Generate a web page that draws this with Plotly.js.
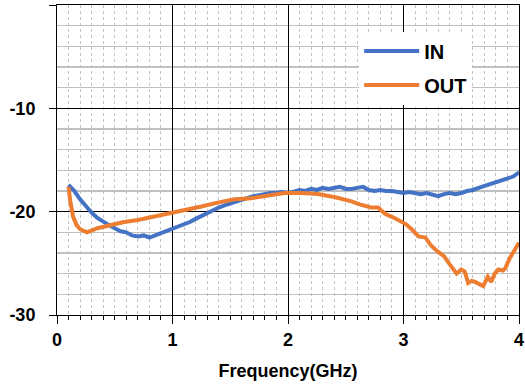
<!DOCTYPE html>
<html>
<head>
<meta charset="utf-8">
<script src="https://cdn.plot.ly/plotly-3.0.1.min.js"></script>
<style>html,body{margin:0;padding:0;background:#fff;}#chart{width:525px;height:387px;}</style>
</head>
<body>
<div id="chart"></div>
<script>
// IN series (GHz, dB)
const inFreq = [0.10,0.15,0.20,0.25,0.30,0.35,0.40,0.45,0.50,0.55,0.60,0.65,0.70,0.75,0.80,0.85,0.90,0.95,1.00,1.05,1.10,1.15,1.20,1.25,1.30,1.35,1.40,1.45,1.50,1.55,1.60,1.65,1.70,1.75,1.80,1.85,1.90,1.95,2.00,2.05,2.10,2.15,2.20,2.25,2.30,2.35,2.40,2.45,2.50,2.55,2.60,2.65,2.70,2.75,2.80,2.85,2.90,2.95,3.00,3.05,3.10,3.15,3.20,3.25,3.30,3.35,3.40,3.45,3.50,3.55,3.60,3.65,3.70,3.75,3.80,3.85,3.90,3.95,4.00];
const inVal = [-17.4,-18.0,-18.8,-19.5,-20.1,-20.6,-21.0,-21.3,-21.6,-21.9,-22.0,-22.3,-22.4,-22.3,-22.5,-22.3,-22.0,-21.8,-21.6,-21.4,-21.2,-21.0,-20.7,-20.4,-20.2,-19.9,-19.6,-19.4,-19.2,-19.0,-18.8,-18.6,-18.5,-18.4,-18.3,-18.2,-18.2,-18.1,-18.2,-18.0,-17.9,-18.0,-17.8,-17.9,-17.7,-17.8,-17.7,-17.6,-17.8,-17.8,-17.7,-17.6,-17.9,-18.0,-17.9,-18.0,-18.0,-18.1,-18.2,-18.1,-18.2,-18.3,-18.2,-18.4,-18.5,-18.3,-18.2,-18.3,-18.2,-18.0,-17.9,-17.7,-17.5,-17.3,-17.2,-17.0,-16.8,-16.6,-16.2];
// OUT series (GHz, dB)
const outFreq = [0.10,0.115,0.14,0.17,0.20,0.26,0.35,0.45,0.58,0.70,0.87,1.00,1.11,1.25,1.40,1.54,1.68,1.83,1.97,2.12,2.26,2.41,2.55,2.62,2.67,2.72,2.78,2.84,2.90,2.96,3.02,3.08,3.13,3.19,3.24,3.30,3.35,3.40,3.46,3.50,3.53,3.56,3.59,3.62,3.66,3.69,3.73,3.76,3.79,3.82,3.86,3.88,3.92,3.96,4.00];
const outVal = [-17.6,-19.0,-20.5,-21.3,-21.7,-22.0,-21.6,-21.3,-21.0,-20.8,-20.4,-20.1,-19.9,-19.5,-19.1,-18.8,-18.7,-18.4,-18.2,-18.2,-18.3,-18.6,-19.0,-19.3,-19.5,-19.6,-19.6,-20.2,-20.5,-20.8,-21.2,-21.8,-22.4,-22.5,-23.3,-23.9,-24.3,-25.1,-26.0,-25.6,-25.8,-26.9,-26.7,-26.8,-27.0,-27.2,-26.3,-26.8,-26.0,-25.6,-25.7,-25.5,-24.5,-23.7,-23.0];
const seriesNames = ['IN','OUT'];
const xTickVals = [0,1,2,3,4];
const xTickText = ['0','1','2','3','4'];
const yTickVals = [-30,-20,-10,0];
const yTickText = ['-30','-20','-10',''];

const FONT = 'Liberation Sans, Arial, sans-serif';

const traces = [
  {x: inFreq, y: inVal, name: seriesNames[0], type: 'scatter', mode: 'lines', legendgroup: 'a',
   line: {color: '#4472C4', width: 4}},
  {x: outFreq, y: outVal, name: seriesNames[1], type: 'scatter', mode: 'lines', legendgroup: 'b',
   line: {color: '#ED7D31', width: 4}}
];

const layout = {
  width: 525, height: 387,
  margin: {l: 57, r: 6, t: 5, b: 72},
  paper_bgcolor: '#fff', plot_bgcolor: '#fff',
  showlegend: true,
  legend: {
    x: 0.654, y: 0.9145, xanchor: 'left', yanchor: 'top',
    bgcolor: '#ffffff', borderwidth: 0,
    font: {family: FONT, size: 20, color: '#000', weight: 700},
    traceorder: 'grouped', tracegroupgap: 5,
    itemwidth: 55
  },
  xaxis: {
    range: [0, 4], tickvals: xTickVals, ticktext: xTickText,
    ticks: 'outside', ticklen: 8, tickwidth: 1, tickcolor: '#000',
    showline: true, linecolor: '#000', linewidth: 1, mirror: true,
    showgrid: true, gridcolor: '#000', gridwidth: 1,
    zeroline: false,
    tickfont: {family: FONT, size: 18, color: '#000', weight: 700},
    minor: {dtick: 0.1, showgrid: true, gridcolor: '#c4c4c4', griddash: 'dot', gridwidth: 1,
            ticks: 'outside', ticklen: 4, tickcolor: '#000', tickwidth: 1},
    title: {text: 'Frequency(GHz)', font: {family: FONT, size: 18, color: '#000', weight: 700}, standoff: 15}
  },
  yaxis: {
    range: [-30, 0], tickvals: yTickVals, ticktext: yTickText,
    ticks: 'outside', ticklen: 7, tickwidth: 1, tickcolor: '#000',
    showline: true, linecolor: '#000', linewidth: 1, mirror: true,
    showgrid: true, gridcolor: '#000', gridwidth: 1,
    zeroline: false,
    ticklabelstandoff: 10,
    tickfont: {family: FONT, size: 18, color: '#000', weight: 700},
    minor: {dtick: 2, showgrid: true, gridcolor: '#c0c0c0', gridwidth: 1.5, ticks: ''}
  }
};

Plotly.newPlot('chart', traces, layout, {displayModeBar: false, staticPlot: true});
</script>
</body>
</html>
